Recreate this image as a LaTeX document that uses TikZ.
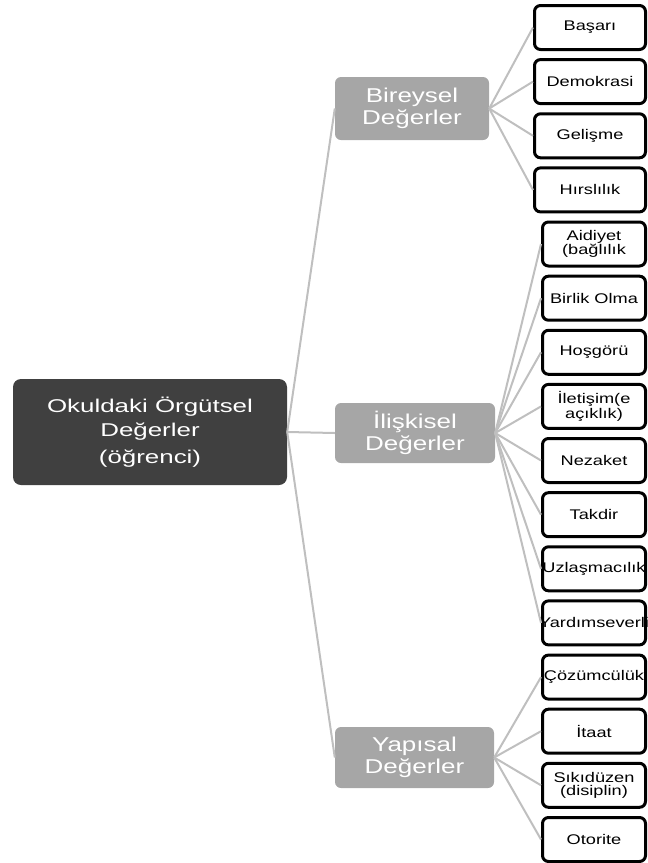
\documentclass[tikz,border=0pt]{standalone}
\usepackage{fontspec}
\setmainfont{Liberation Sans}
\newfontfamily\leaffont{Liberation Sans}[FakeStretch=1.3]
\newfontfamily\midfont{Liberation Sans}[FakeStretch=1.3]
\newfontfamily\rootfont{Liberation Sans}[FakeStretch=1.4]
\definecolor{rootgray}{HTML}{404040}
\definecolor{midgray}{HTML}{A6A6A6}
\definecolor{linegray}{HTML}{BFBFBF}
\tikzset{
  rootbox/.style={fill=rootgray, rounded corners=8pt, text=white, align=center, inner sep=0pt,
    font=\rootfont\fontsize{18.5}{24}\selectfont},
  midbox/.style={fill=midgray, rounded corners=6pt, text=white, align=center, inner sep=0pt,
    font=\midfont\fontsize{20}{22}\selectfont},
  leafbox/.style={draw=black, line width=3pt, rounded corners=6pt, fill=white, inner sep=0pt,
    minimum height=44pt, align=center, font=\leaffont\fontsize{14}{12.5}\selectfont},
  leafA/.style={leafbox, minimum width=111pt},
  leafB/.style={leafbox, minimum width=103pt},
  conn/.style={draw=linegray, line width=2pt},
}
\begin{document}
\begin{tikzpicture}[x=1pt,y=-1pt]
\useasboundingbox (0,0) rectangle (648,863);
% root
\node[rootbox, minimum width=274pt, minimum height=106pt] (root) at (150,432)
  {Okuldaki Örgütsel\\Değerler\\[3pt](öğrenci)};
% middle
\node[midbox, minimum width=154pt, minimum height=63pt] (bir) at (412,108.5) {Bireysel\\Değerler};
\node[midbox, minimum width=160pt, minimum height=60pt] (ili) at (415,433) {İlişkisel\\Değerler};
\node[midbox, minimum width=159pt, minimum height=61pt] (yap) at (414.5,757.5) {Yapısal\\Değerler};
% leaves
\node[leafA] (l1) at (590,27.5) {Başarı};
\node[leafA] (l2) at (590,81.6) {Demokrasi};
\node[leafA] (l3) at (590,135.8) {Gelişme};
\node[leafA] (l4) at (590,189.9) {Hırslılık};
\node[leafB] (l5) at (594,244) {Aidiyet\\(bağlılık};
\node[leafB] (l6) at (594,298.2) {Birlik Olma};
\node[leafB] (l7) at (594,352.3) {Hoşgörü};
\node[leafB] (l8) at (594,406.4) {İletişim(e\\açıklık)};
\node[leafB] (l9) at (594,460.5) {Nezaket};
\node[leafB] (l10) at (594,514.7) {Takdir};
\node[leafB] (l11) at (594,568.8) {\makebox[0pt][c]{Uzlaşmacılık}};
\node[leafB] (l12) at (594,622.9) {\makebox[0pt][c]{Yardımseverli}};
\node[leafB] (l13) at (594,677.1) {Çözümcülük};
\node[leafB] (l14) at (594,731.2) {İtaat};
\node[leafB] (l15) at (594,785.3) {Sıkıdüzen\\(disiplin)};
\node[leafB] (l16) at (594,839.5) {Otorite};
% connectors
\foreach \m in {bir,ili,yap} \draw[conn] (root.east) -- (\m.west);
\foreach \l in {l1,l2,l3,l4} \draw[conn] (bir.east) -- (\l.west);
\foreach \l in {l5,l6,l7,l8,l9,l10,l11,l12} \draw[conn] (ili.east) -- (\l.west);
\foreach \l in {l13,l14,l15,l16} \draw[conn] (yap.east) -- (\l.west);
\end{tikzpicture}
\end{document}
